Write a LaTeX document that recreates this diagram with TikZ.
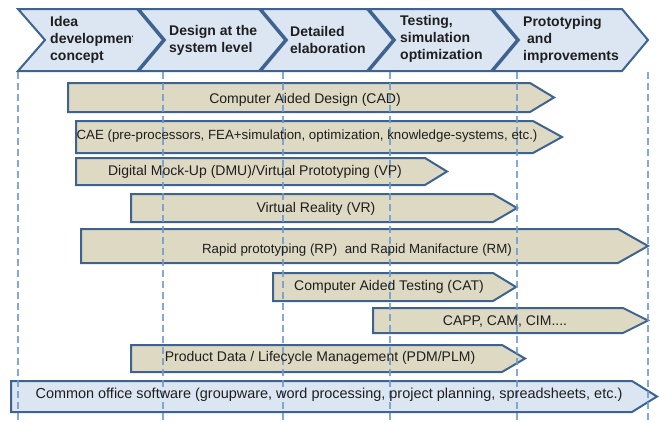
\documentclass[tikz,border=0pt]{standalone}
\usepackage{fontspec}
\setmainfont{Liberation Sans}
\definecolor{edge}{HTML}{3F6390}
\definecolor{tanfill}{HTML}{DDD9C3}
\definecolor{pale}{HTML}{DCE6F2}
\definecolor{guide}{HTML}{6E9AD0}
\definecolor{ink}{HTML}{1E1E1E}
\tikzset{
  phase/.style={draw=edge, fill=pale, line width=2pt, line join=miter},
  toolbar/.style={draw=edge, fill=tanfill, line width=2pt},
  officebar/.style={draw=edge, fill=pale, line width=2pt},
  guideline/.style={draw=guide, line width=1.1pt, dash pattern=on 7pt off 4pt},
  phasetext/.style={font=\fontsize{14}{16.8}\selectfont\bfseries, text=ink, align=left, anchor=west, inner sep=0pt},
  bartext/.style={font=\fontsize{14}{17}\selectfont, text=ink, inner sep=0pt, anchor=base},
}
\begin{document}
\begin{tikzpicture}[x=1pt, y=-1pt]
\useasboundingbox (0,0) rectangle (659,423);
% phase chevrons
\path[phase] (18,9) -- (137,9) -- (163,40) -- (137,71) -- (18,71) -- (45,40) -- cycle;
\path[phase] (139,9) -- (259,9) -- (285,40) -- (259,71) -- (139,71) -- (165,40) -- cycle;
\path[phase] (261,9) -- (367,9) -- (393,40) -- (367,71) -- (261,71) -- (287,40) -- cycle;
\path[phase] (369,9) -- (491,9) -- (517,40) -- (491,71) -- (369,71) -- (395,40) -- cycle;
\path[phase] (493,9) -- (622,9) -- (648,40) -- (622,71) -- (493,71) -- (519,40) -- cycle;
\begin{scope}
  \clip (18,0) rectangle (132,80);
  \node[phasetext] (p1) at (50,40) {Idea\\development\\concept};
\end{scope}
\node[phasetext] (p2) at (169,40) {Design at the\\system level};
\node[phasetext] (p3) at (290,40) {Detailed\\elaboration};
\node[phasetext] (p4) at (400,39) {Testing,\\simulation\\optimization};
\node[phasetext] (p5) at (523,40) {Prototyping\\\hspace*{4pt}and\\improvements};
% tool bars
\path[toolbar] (68,83) -- (530,83) -- (554,97.5) -- (530,112) -- (68,112) -- cycle;
\path[toolbar] (76,121) -- (533,121) -- (562,137) -- (533,153) -- (76,153) -- cycle;
\path[toolbar] (76,158) -- (425,158) -- (447,171.5) -- (425,185) -- (76,185) -- cycle;
\path[toolbar] (131,194) -- (493,194) -- (517,208) -- (493,222) -- (131,222) -- cycle;
\path[toolbar] (81,229) -- (618,229) -- (648,246) -- (618,263) -- (81,263) -- cycle;
\path[toolbar] (273,273) -- (493,273) -- (516,287) -- (493,301) -- (273,301) -- cycle;
\path[toolbar] (373,308) -- (623,308) -- (648,320.5) -- (623,333) -- (373,333) -- cycle;
\path[toolbar] (131,345) -- (502,345) -- (525,358.5) -- (502,372) -- (131,372) -- cycle;
\path[officebar] (11,381) -- (632,381) -- (657,396.5) -- (632,412) -- (11,412) -- cycle;
% guide lines
\foreach \gx/\gn in {18/g1, 163/g2, 283/g3, 390/g4, 517/g5, 648/g6} {
  \coordinate (\gn a) at (\gx,72);
  \coordinate (\gn b) at (\gx,423);
  \draw[guideline, opacity=0.85] (\gn a) -- (\gn b);
}
% labels
\node[bartext] (cad) at (305,103) {Computer Aided Design (CAD)};
\node[bartext, font=\fontsize{13.3}{16}\selectfont] (cae) at (307,139) {CAE (pre-processors, FEA+simulation, optimization, knowledge-systems, etc.)};
\node[bartext] (dmu) at (255,175) {Digital Mock-Up (DMU)/Virtual Prototyping (VP)};
\node[bartext] (vr) at (316,212) {Virtual Reality (VR)};
\node[bartext, font=\fontsize{13.3}{16}\selectfont] (rp) at (357,253) {Rapid prototyping (RP)\ \ and Rapid Manifacture (RM)};
\node[bartext] (cat) at (389,290) {Computer Aided Testing (CAT)};
\node[bartext] (capp) at (505,325) {CAPP, CAM, CIM....};
\node[bartext] (pdm) at (320,361) {Product Data / Lifecycle Management (PDM/PLM)};
\node[bartext, font=\fontsize{14.45}{17}\selectfont] (office) at (329,398) {Common office software (groupware, word processing, project planning, spreadsheets, etc.)};
\end{tikzpicture}
\end{document}
